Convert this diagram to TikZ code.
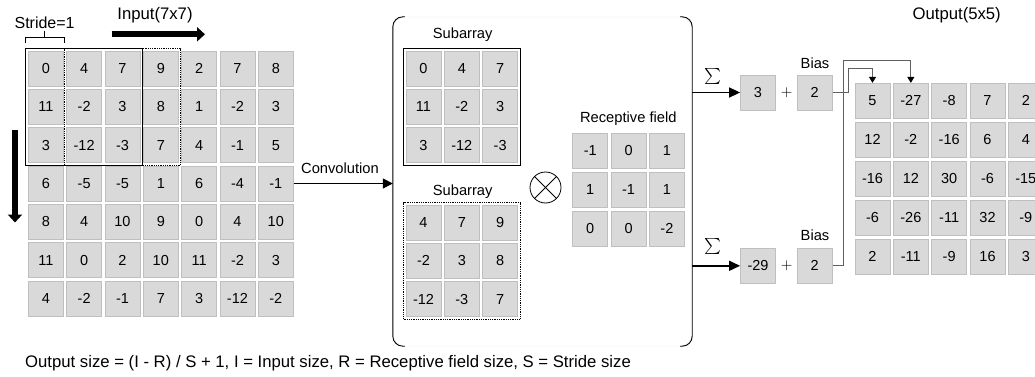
\documentclass[tikz,border=0pt]{standalone}
\usepackage{fontspec}
\setmainfont{Liberation Sans}
\usepackage{tikz}
\usetikzlibrary{arrows.meta, calc, fit}
\definecolor{cellfill}{HTML}{D9D9D9}
\definecolor{cellline}{HTML}{BFBFBF}
\definecolor{linkgray}{HTML}{606060}
\newcommand{\cellfont}{\fontsize{14.5}{16}\selectfont}
\newcommand{\labelfont}{\fontsize{14.7}{17}\selectfont}
\newcommand{\titlefont}{\fontsize{16.7}{19}\selectfont}

\begin{document}
\begin{tikzpicture}[x=1pt, y=-1pt,
  cell/.style={draw=cellline, fill=cellfill, line width=0.8pt, minimum size=35pt, inner sep=0pt, font=\cellfont},
  lbl/.style={font=\labelfont, inner sep=0pt},
  ttl/.style={font=\titlefont, inner sep=0pt},
  sigma/.style={scale=1.6, inner sep=0pt},
  plus/.style={scale=1.5, inner sep=0pt},
  link/.style={draw=linkgray, line width=0.9pt, -{Triangle[length=6pt, width=7pt, color=black]}},
  sumarrow/.style={line width=1.6pt, -{Triangle[length=11pt, width=10pt]}},
  bigarrow/.style={line width=6pt, -{Triangle[length=8pt, width=14pt]}}]
\clip (0,0) rectangle (1035,377);
\pgfmathsetmacro{\pitch}{38.33}

% input 7x7
\foreach \row [count=\i from 0] in {{0,4,7,9,2,7,8},{11,-2,3,8,1,-2,3},{3,-12,-3,7,4,-1,5},{6,-5,-5,1,6,-4,-1},{8,4,10,9,0,4,10},{11,0,2,10,11,-2,3},{4,-2,-1,7,3,-12,-2}}
  \foreach \v [count=\j from 0] in \row
    \node[cell] (in-\i-\j) at (45.8+\j*\pitch, 68.5+\i*\pitch) {\v};
\node[fit=(in-0-0)(in-2-2), draw, line width=1pt, inner sep=2pt] (win1) {};
\node[fit=(in-0-1)(in-2-3), draw, densely dotted, line width=0.8pt, inner sep=2pt] (win2) {};
\node[ttl] (inlbl) at (155,15) {Input(7x7)};

% stride bracket
\draw[line width=0.6pt] ($(win1.north west)+(0,-5)$) -- ++(0,-6) -| ($(win2.north west)+(0,-5)$);
\draw[line width=0.6pt] ($(win1.north west)!0.5!(win2.north west)+(0,-11)$) -- ++(0,-6);
\node[lbl, font=\fontsize{16}{18}\selectfont] (stride) at ($(win1.north west)!0.5!(win2.north west)+(0,-25)$) {Stride=1};

% sliding direction
\coordinate (hs) at (111.7,34.3);
\coordinate (he) at (205,34.3);
\draw[bigarrow] (hs) -- (he);
\coordinate (vs) at (15,130);
\coordinate (ve) at (15,222.5);
\draw[bigarrow] (vs) -- (ve);

% convolution block
\node[draw=gray!20, rounded corners=12pt, minimum width=299pt, minimum height=329pt, inner sep=0pt] (conv) at (542.5,181.5) {};
\draw[rounded corners=10pt, line width=0.9pt] ([xshift=12pt]conv.north west) -- (conv.north west) -- (conv.south west) -- ([xshift=12pt]conv.south west);
\draw[rounded corners=10pt, line width=0.9pt] ([xshift=-12pt]conv.north east) -- (conv.north east) -- (conv.south east) -- ([xshift=-12pt]conv.south east);
\draw[line width=1.4pt, -{Triangle[length=10pt, width=10pt]}] (in-3-6.east) -- (conv.west |- in-3-6.east);
\node[lbl] (convlbl) at (340,168) {Convolution};

% subarrays
\node[lbl] (sub1lbl) at (462.7,35) {Subarray};
\foreach \row [count=\i from 0] in {{0,4,7},{11,-2,3},{3,-12,-3}}
  \foreach \v [count=\j from 0] in \row
    \node[cell] (sa-\i-\j) at (423.5+\j*\pitch, 68.5+\i*\pitch) {\v};
\node[fit=(sa-0-0)(sa-2-2), draw, line width=1pt, inner sep=2pt] (sabox) {};

\node[lbl] (sub2lbl) at (462.7,191.7) {Subarray};
\foreach \row [count=\i from 0] in {{4,7,9},{-2,3,8},{-12,-3,7}}
  \foreach \v [count=\j from 0] in \row
    \node[cell] (sb-\i-\j) at (423.5+\j*\pitch, 222.5+\i*\pitch) {\v};
\node[fit=(sb-0-0)(sb-2-2), draw, densely dotted, line width=0.8pt, inner sep=2pt] (sbbox) {};

% product with receptive field
\node[draw, circle, minimum size=31pt, inner sep=0pt, line width=0.8pt] (mul) at (545.5,187.5) {};
\draw[line width=0.8pt] (mul.north west) -- (mul.south east);
\draw[line width=0.8pt] (mul.north east) -- (mul.south west);
\node[lbl] (rflbl) at (628.3,118.3) {Receptive field};
\foreach \row [count=\i from 0] in {{-1,0,1},{1,-1,1},{0,0,-2}}
  \foreach \v [count=\j from 0] in \row
    \node[cell] (rf-\i-\j) at (590.2+\j*\pitch, 150.8+\i*38.8) {\v};

% sums and bias
\node[cell] (s1) at (758,92.5) {3};
\node[plus] (p1) at (786.7,92.5) {$+$};
\node[cell] (b1) at (814.7,92.5) {2};
\node[lbl] (bias1) at (815,63.3) {Bias};
\node[sigma] (sig1) at (713,76.7) {$\textstyle\sum$};
\draw[sumarrow] (conv.east |- s1) -- (s1);

\node[cell] (s2) at (758,265.8) {-29};
\node[plus] (p2) at (786.7,265.8) {$+$};
\node[cell] (b2) at (814.7,265.8) {2};
\node[lbl] (bias2) at (815,235) {Bias};
\node[sigma] (sig2) at (713,246.7) {$\textstyle\sum$};
\draw[sumarrow] (conv.east |- s2) -- (s2);

% output 5x5
\node[ttl] (outlbl) at (956.7,15) {Output(5x5)};
\foreach \row [count=\i from 0] in {{5,-27,-8,7,2},{12,-2,-16,6,4},{-16,12,30,-6,-15},{-6,-26,-11,32,-9},{2,-11,-9,16,3}}
  \foreach \v [count=\j from 0] in \row
    \node[cell] (o-\i-\j) at (872.5+\j*\pitch, 100.8+\i*39) {\v};
\draw[link] (b1.east) -- ++(16.3,0) |- ([yshift=14pt]o-0-0.north) -- (o-0-0.north);
\draw[link] (b2.east) -- ++(10.7,0) |- ([yshift=22.3pt]o-0-1.north) -- (o-0-1.north);

\node[anchor=west, font=\fontsize{16.7}{19}\selectfont, inner sep=0pt] (formula) at (25,363.3) {Output size = (I - R) / S + 1, I = Input size, R = Receptive field size, S = Stride size};
\end{tikzpicture}
\end{document}
